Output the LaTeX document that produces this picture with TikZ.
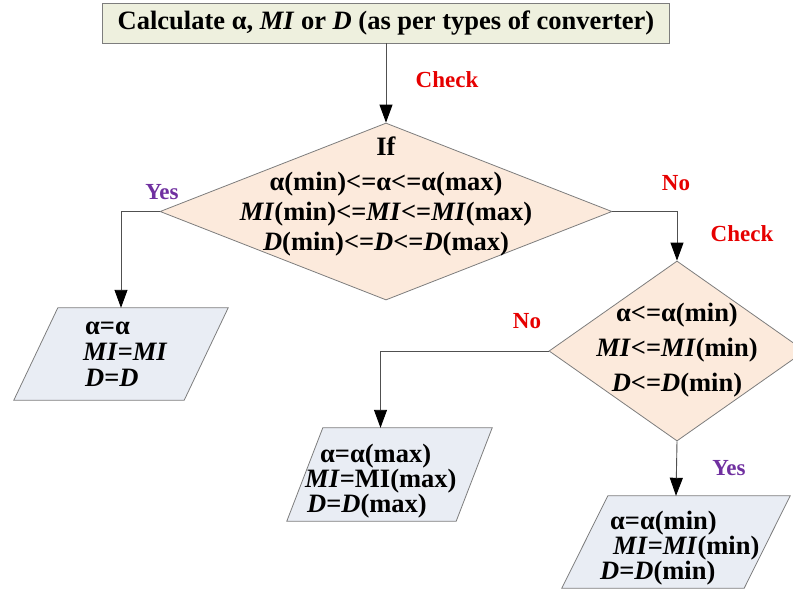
\documentclass[tikz,border=0pt]{standalone}
\usepackage{fontspec}
\setmainfont{Liberation Serif}
\usetikzlibrary{shapes.geometric,arrows.meta}

\definecolor{boxgreen}{RGB}{238,240,222}
\definecolor{peach}{RGB}{252,234,220}
\definecolor{paleblue}{RGB}{233,237,244}
\definecolor{bordc}{RGB}{125,125,125}
\definecolor{linec}{RGB}{80,80,80}
\definecolor{labred}{RGB}{230,0,0}
\definecolor{labpurple}{RGB}{112,48,160}

\newcommand{\bigtxt}[1]{\fontsize{26.5}{#1}\selectfont\bfseries}
% slanted input/output box drawn over the frame of node #1, slant #2
\newcommand{\ioshape}[2]{%
  \draw[ioline] ([xshift=#2]#1.north west) -- (#1.north east)
    -- ([xshift=-#2]#1.south east) -- (#1.south west) -- cycle;}

\tikzset{
  procbox/.style={rectangle, draw=bordc, line width=0.9pt, fill=boxgreen,
    minimum width=567pt, minimum height=40pt, inner sep=0pt,
    font=\bigtxt{30}},
  decision/.style={diamond, draw=bordc, line width=0.8pt, fill=peach, inner sep=0pt},
  ioframe/.style={rectangle, inner sep=0pt},
  ioline/.style={draw=bordc, line width=0.8pt, fill=paleblue},
  body/.style={inner sep=0pt, text=black},
  conn/.style={draw=linec, line width=0.9pt,
    -{Triangle[length=18pt,width=13pt,black]}},
  redlab/.style={text=labred, font=\fontsize{23}{27}\selectfont\bfseries, inner sep=0pt},
  purplab/.style={text=labpurple, font=\fontsize{23}{27}\selectfont\bfseries, inner sep=0pt},
}

\begin{document}
\begin{tikzpicture}[x=1pt,y=-1pt]
\useasboundingbox (0,0) rectangle (793,590);
\clip (0,0) rectangle (793,590);

% start box
\node[procbox] (calc) at (386,23)
  {Calculate α, \textit{MI} or \textit{D} (as per types of converter)};

% first test: value inside its range
\node[decision, minimum width=452pt, minimum height=177pt] (d1) at (386,211.5) {};
\node[body, align=center, font=\bigtxt{30}] (d1txt) at (386,196)
  {If\\[5pt]
   α(min)<=α<=α(max)\\
   \textit{MI}(min)<=\textit{MI}<=\textit{MI}(max)\\
   \textit{D}(min)<=\textit{D}<=\textit{D}(max)};

% second test: value below its minimum
\node[decision, minimum width=256pt, minimum height=180pt] (d2) at (677,351) {};
\node[body, align=center, font=\bigtxt{35}] (d2txt) at (677,350)
  {α<=α(min)\\
   \textit{MI}<=\textit{MI}(min)\\
   \textit{D}<=\textit{D}(min)};

% outputs
\node[ioframe, minimum width=214pt, minimum height=92pt] (p1) at (121,354) {};
\ioshape{p1}{44pt}
\node[body, anchor=west, align=left, font=\bigtxt{26}] (p1txt) at (83,354)
  {\hspace*{2pt}α=α\\
   \textit{MI}=\textit{MI}\\
   \hspace*{2pt}\textit{D}=\textit{D}};

\node[ioframe, minimum width=205pt, minimum height=93pt] (p2) at (389.5,474.5) {};
\ioshape{p2}{36pt}
\node[body, anchor=west, align=left, font=\bigtxt{25}] (p2txt) at (305,481)
  {\hspace*{15pt}α=α(max)\\
   \textit{MI}=MI(max)\\
   \hspace*{2pt}\textit{D}=\textit{D}(max)};

\node[ioframe, minimum width=228pt, minimum height=92pt] (p3) at (676,542) {};
\ioshape{p3}{46pt}
\node[body, anchor=west, align=left, font=\bigtxt{25}] (p3txt) at (600,548)
  {\hspace*{10pt}α=α(min)\\
   \hspace*{13pt}\textit{MI}=\textit{MI}(min)\\
   \textit{D}=\textit{D}(min)};

% connectors
\draw[conn] (calc.south -| d1.north) -- (d1.north);
\draw[conn] (d1.west) -| (p1.north);
\draw[conn] (d1.east) -| (d2.north);
\draw[conn] (d2.west) -| ([xshift=-9pt]p2.north);
\draw[conn] (d2.south) -- (p3.north);

% branch labels
\node[redlab] (chk1) at (447,80) {Check};
\node[purplab] (yes1) at (162,192) {Yes};
\node[redlab] (no1) at (676,183) {No};
\node[redlab] (chk2) at (742,234) {Check};
\node[redlab] (no2) at (527,321) {No};
\node[purplab] (yes2) at (729,468) {Yes};
\end{tikzpicture}
\end{document}
